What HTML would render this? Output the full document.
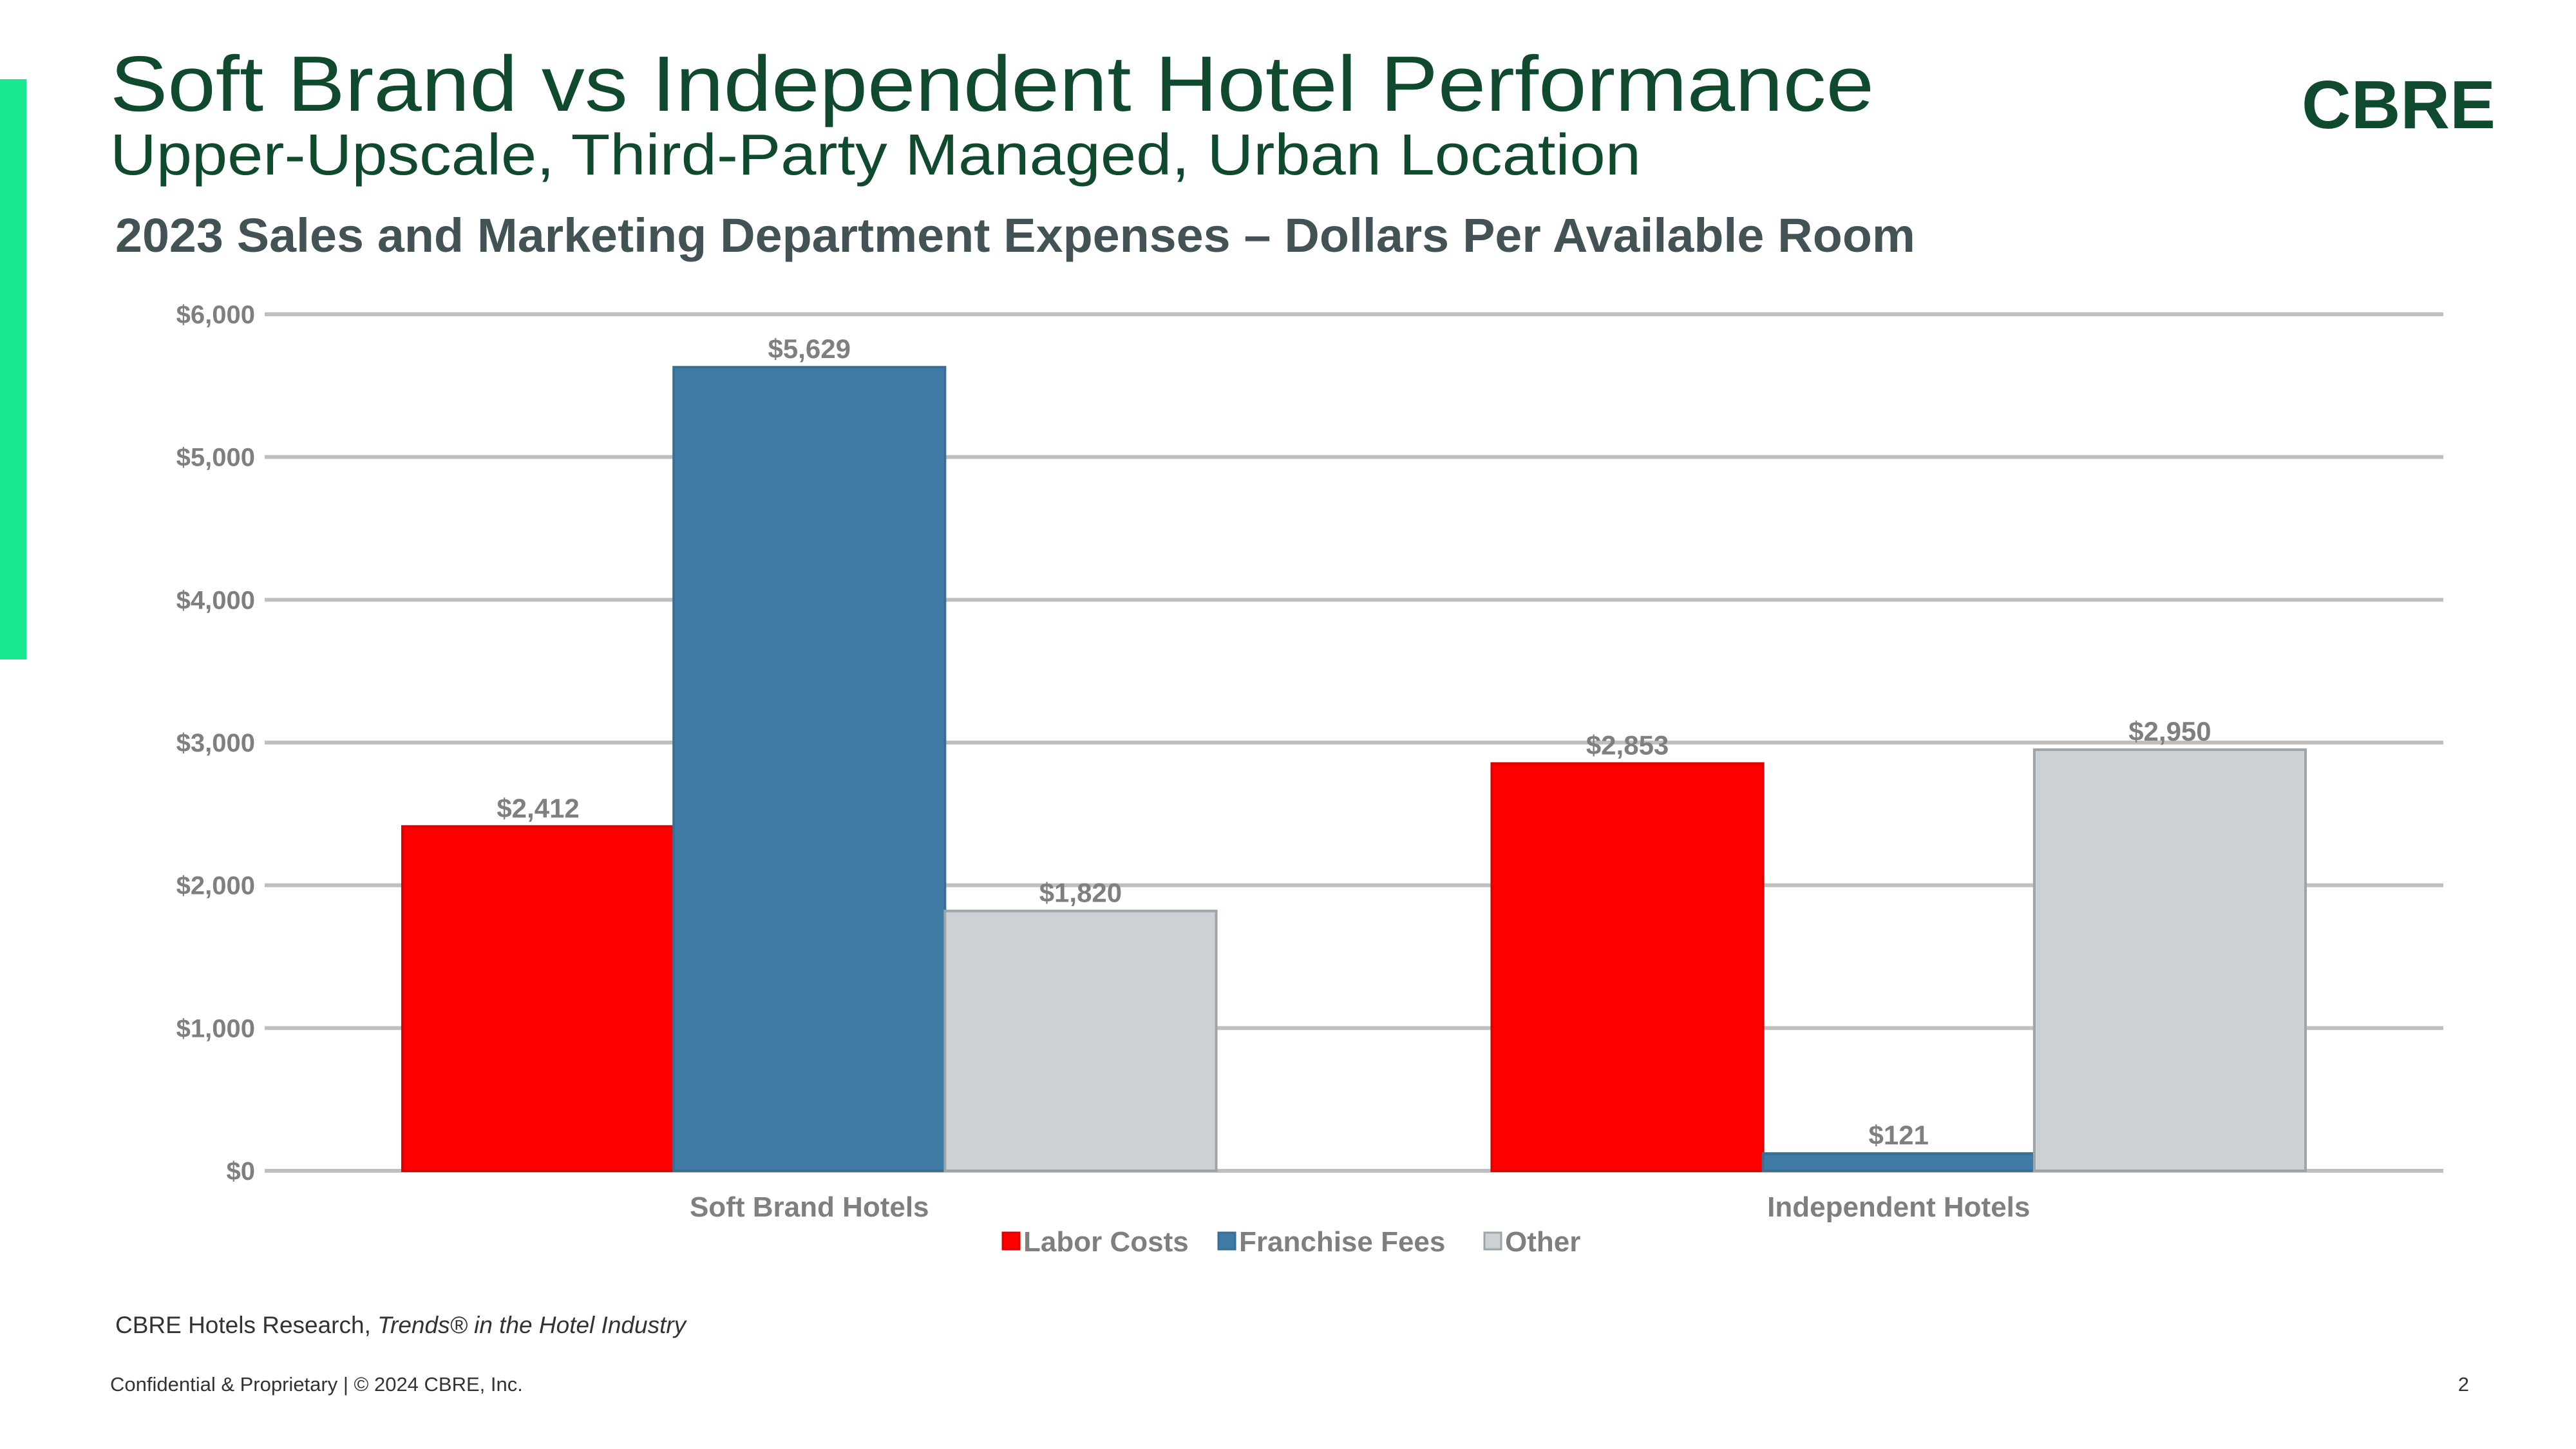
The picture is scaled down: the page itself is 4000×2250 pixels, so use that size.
<!DOCTYPE html>
<html><head><meta charset="utf-8">
<style>
html,body{margin:0;padding:0;background:#fff;}
svg{display:block;}
text{font-family:"Liberation Sans",sans-serif;}
</style></head>
<body>
<svg id="chart" width="4000" height="2250" viewBox="0 0 4000 2250" xmlns="http://www.w3.org/2000/svg">
  <rect x="0" y="123" width="41" height="901" fill="#17E88F"/>
  <text x="171" y="172" font-size="122" fill="#0F4A2E" textLength="2739" lengthAdjust="spacingAndGlyphs">Soft Brand vs Independent Hotel Performance</text>
  <text x="171" y="271" font-size="90" fill="#0F4A2E" textLength="2377" lengthAdjust="spacingAndGlyphs">Upper-Upscale, Third-Party Managed, Urban Location</text>
  <text x="3574" y="199" font-size="106" font-weight="bold" fill="#0F4A2E" textLength="301" lengthAdjust="spacingAndGlyphs">CBRE</text>
  <text x="179" y="391" font-size="74" font-weight="bold" fill="#435254" textLength="2795" lengthAdjust="spacingAndGlyphs">2023 Sales and Marketing Department  Expenses – Dollars Per Available Room</text>
  <g id="plot"></g>
  <text x="179" y="2070" font-size="37" fill="#333">CBRE Hotels Research, <tspan font-style="italic">Trends® in the Hotel Industry</tspan></text>
  <text x="171" y="2160" font-size="31" fill="#333">Confidential &amp; Proprietary | © 2024 CBRE, Inc.</text>
  <text x="3834" y="2160" font-size="31" fill="#333" text-anchor="end">2</text>
</svg>
<script>
const categories = ["Soft Brand Hotels", "Independent Hotels"];
const seriesNames = ["Labor Costs", "Franchise Fees", "Other"];
const laborCosts = [2412, 2853];
const franchiseFees = [5629, 121];
const otherCosts = [1820, 2950];
const tickValues = [0, 1000, 2000, 3000, 4000, 5000, 6000];
const tickLabels = ["$0", "$1,000", "$2,000", "$3,000", "$4,000", "$5,000", "$6,000"];
const seriesColors = ["#FF0000", "#3F7BA4", "#CBD1D4"];
const seriesStrokes = ["#E00000", "#3A6F95", "#9EA5A8"];

const NS = "http://www.w3.org/2000/svg";
const plot = document.getElementById("plot");
const X0 = 411, X1 = 3794, Y0 = 1818, Y1 = 488, YMAX = 6000;
const yScale = v => Y0 - (v / YMAX) * (Y0 - Y1);
const band = (X1 - X0) / categories.length;
const barW = band * 0.249;
const bandCenter = i => X0 + band * (i + 0.5);

function mk(tag, attrs) {
  const e = document.createElementNS(NS, tag);
  for (const k in attrs) e.setAttribute(k, attrs[k]);
  plot.appendChild(e);
  return e;
}

tickValues.forEach((v, i) => {
  const y = yScale(v);
  const g = mk("line", {x1: X0, x2: X1, y1: y, y2: y, stroke: "#BFBFBF", "stroke-width": 6});
  
  
  const t = mk("text", {x: 396, y: y + 14, "font-size": 40, "font-weight": "bold", fill: "#7F7F7F", "text-anchor": "end"});
  t.textContent = tickLabels[i];
  
  
});

const allSeries = [laborCosts, franchiseFees, otherCosts];
categories.forEach((c, ci) => {
  allSeries.forEach((s, si) => {
    const x = bandCenter(ci) + (si - 1.5) * barW;
    const y = yScale(s[ci]);
    const r = mk("rect", {x: x, y: y, width: barW, height: Y0 - y, fill: seriesColors[si], stroke: seriesStrokes[si], "stroke-width": 4});
    
    
    const t = mk("text", {x: x + barW / 2, y: y - 14, "font-size": 42, "font-weight": "bold", fill: "#7F7F7F", "text-anchor": "middle"});
    t.textContent = "$" + s[ci].toLocaleString("en-US");
    
    
  });
  const ct = mk("text", {x: bandCenter(ci), y: 1889, "font-size": 44, "font-weight": "bold", fill: "#7F7F7F", "text-anchor": "middle"});
  ct.textContent = c;
  
  
});

const legendX = [1557, 1892, 2305];
seriesNames.forEach((n, i) => {
  const sq = mk("rect", {x: legendX[i], y: 1914, width: 26, height: 26, fill: seriesColors[i], stroke: seriesStrokes[i], "stroke-width": 3});
  
  
  const t = mk("text", {x: legendX[i] + 32, y: 1943, "font-size": 44, "font-weight": "bold", fill: "#7F7F7F"});
  t.textContent = n;
  
  
});
</script>
</body></html>
